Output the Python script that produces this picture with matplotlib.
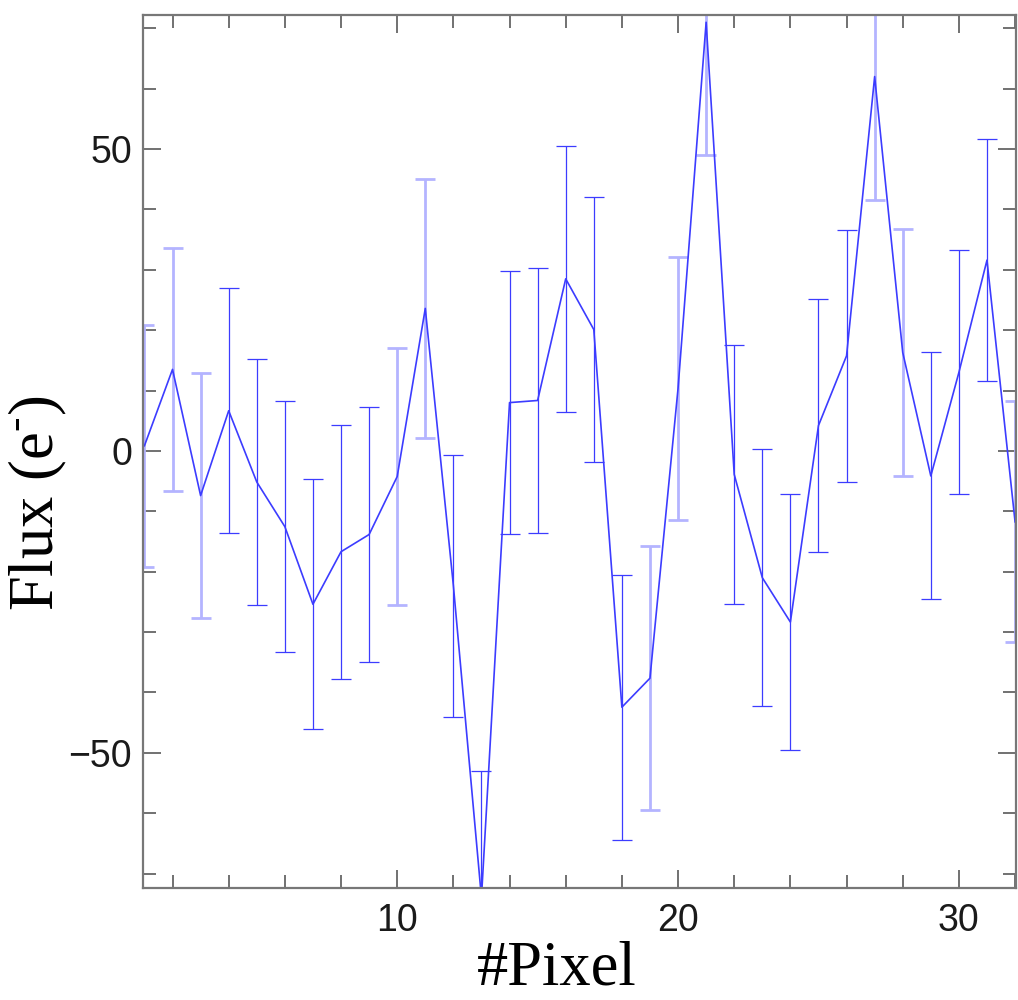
import numpy as np
import matplotlib
matplotlib.use("Agg")
import matplotlib.pyplot as plt
from matplotlib.ticker import MultipleLocator

# pixel index, flux and its error
pixel = np.arange(1, 33)
flux = [0.85, 13.5, -7.4, 6.65, -5.15, -12.55, -25.4, -16.7, -13.85, -4.25,
        23.6, -22.3, -74.0, 8.0, 8.35, 28.5, 20.1, -42.45, -37.65, 10.35,
        71.0, -3.9, -21.0, -28.35, 4.2, 15.75, 62.0, 16.3, -4.15, 13.0,
        31.6, -11.75]
flux_err = [20.05, 20.1, 20.3, 20.25, 20.45, 20.75, 20.7, 21.0, 21.15, 21.35,
            21.4, 21.7, 21.0, 21.8, 21.95, 22.0, 22.0, 21.95, 21.85, 21.75,
            22.0, 21.4, 21.3, 21.15, 21.0, 20.85, 20.4, 20.4, 20.45, 20.2,
            20.05, 19.95]

# bars that look washed out in the reference (rendered between pixels)
faint = [1, 2, 3, 10, 11, 19, 20, 21, 27, 28, 32]

flux = np.array(flux)
flux_err = np.array(flux_err)
is_faint = np.isin(pixel, faint)

plt.rcParams['mathtext.fontset'] = 'custom'
plt.rcParams['mathtext.rm'] = 'Liberation Serif'

fig = plt.figure(figsize=(10.18, 10.0), dpi=100)
ax = fig.add_axes([0.1405, 0.112, 0.858, 0.873])

blue = '#3c3cff'
ax.errorbar(pixel[~is_faint], flux[~is_faint], yerr=flux_err[~is_faint],
            fmt='none', ecolor=blue, elinewidth=0.9, capsize=7.5, capthick=0.9)
ax.errorbar(pixel[is_faint], flux[is_faint], yerr=flux_err[is_faint],
            fmt='none', ecolor='#b4b4ff', elinewidth=2.0, capsize=7.5, capthick=2.0)
ax.plot(pixel, flux, color=blue, lw=1.2)

ax.set_xlim(0.95, 32.05)
ax.set_ylim(-72.4, 72.2)

ax.xaxis.set_major_locator(MultipleLocator(10))
ax.xaxis.set_minor_locator(MultipleLocator(2))
ax.yaxis.set_major_locator(MultipleLocator(50))
ax.yaxis.set_minor_locator(MultipleLocator(10))

ax.tick_params(which='both', direction='in', top=True, right=True,
               color='#666666', width=1.3)
ax.tick_params(which='major', length=13)
ax.tick_params(which='minor', length=9.5)
ax.tick_params(axis='x', which='major', pad=11, labelsize=27, labelcolor='#1a1a1a')
ax.tick_params(axis='y', which='major', pad=8, labelsize=27, labelcolor='#1a1a1a')
for lab in ax.get_xticklabels() + ax.get_yticklabels():
    lab.set_family('Liberation Sans')

for sp in ax.spines.values():
    sp.set_color('#777777')
    sp.set_linewidth(1.6)

ax.set_xlabel('#Pixel', family='Liberation Serif', fontsize=45)
ax.set_ylabel(r'Flux (e$^{\text{-}}$)', family='Liberation Serif', fontsize=45)
ax.xaxis.set_label_coords(0.474, -0.06)
ax.yaxis.set_label_coords(-0.085, 0.441)

fig.savefig('out.png', dpi=100)
